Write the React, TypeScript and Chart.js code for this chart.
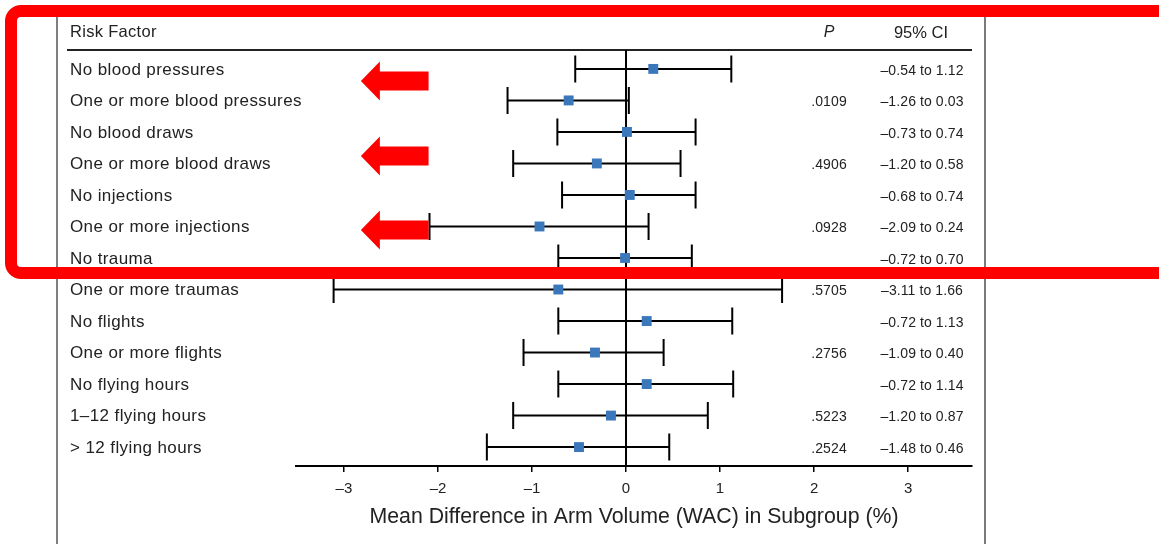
import React, { useEffect, useRef } from "react";
import { Chart, registerables } from "chart.js";

Chart.register(...registerables);

const riskFactors = [
  "No blood pressures",
  "One or more blood pressures",
  "No blood draws",
  "One or more blood draws",
  "No injections",
  "One or more injections",
  "No trauma",
  "One or more traumas",
  "No flights",
  "One or more flights",
  "No flying hours",
  "1–12 flying hours",
  "> 12 flying hours",
];
const means = [0.29, -0.61, 0.01, -0.31, 0.04, -0.92, -0.01, -0.72, 0.22, -0.33, 0.22, -0.16, -0.5];
const ciLow = [-0.54, -1.26, -0.73, -1.2, -0.68, -2.09, -0.72, -3.11, -0.72, -1.09, -0.72, -1.2, -1.48];
const ciHigh = [1.12, 0.03, 0.74, 0.58, 0.74, 0.24, 0.7, 1.66, 1.13, 0.4, 1.14, 0.87, 0.46];
const pValues = ["", ".0109", "", ".4906", "", ".0928", "", ".5705", "", ".2756", "", ".5223", ".2524"];
const xTicks = [-3, -2, -1, 0, 1, 2, 3];
const arrowRows = [0.38, 2.76, 5.11];

const fmt = (v: number) => (v < 0 ? "–" + Math.abs(v).toFixed(2) : v.toFixed(2));
const fmtTick = (v: number) => (v < 0 ? "–" + Math.abs(v) : String(v));

const TEXT = "#222";
const FAMILY = '"Liberation Sans", Arial, sans-serif';
const ROW_FONT = "17px " + FAMILY;
const SMALL_FONT = "14px " + FAMILY;
const HEAD_FONT = "16.5px " + FAMILY;

const forestPlugin = {
  id: "forest",
  beforeDatasetsDraw(chart: any) {
    const { ctx, chartArea, scales } = chart;
    const xs = scales.x;
    const ys = scales.y;
    const H = chart.height;
    ctx.save();
    // frame lines
    ctx.strokeStyle = "#555";
    ctx.lineWidth = 1.5;
    ctx.beginPath();
    ctx.moveTo(57, 12);
    ctx.lineTo(57, H);
    ctx.stroke();
    ctx.strokeStyle = "#222";
    ctx.lineWidth = 1.2;
    ctx.beginPath();
    ctx.moveTo(985, 12);
    ctx.lineTo(985, H);
    ctx.stroke();
    // header line
    ctx.strokeStyle = "#222";
    ctx.lineWidth = 2;
    ctx.beginPath();
    ctx.moveTo(67, chartArea.top);
    ctx.lineTo(972, chartArea.top);
    ctx.stroke();
    // header texts
    ctx.fillStyle = TEXT;
    ctx.textBaseline = "middle";
    ctx.font = HEAD_FONT;
    ctx.letterSpacing = "0.3px";
    ctx.textAlign = "left";
    ctx.fillText("Risk Factor", 70, 32.5);
    ctx.letterSpacing = "0px";
    ctx.textAlign = "center";
    ctx.font = "italic 16px " + FAMILY;
    ctx.fillText("P", 829, 33);
    ctx.font = HEAD_FONT;
    ctx.fillText("95% CI", 921, 33);
    // zero line
    const x0 = xs.getPixelForValue(0);
    ctx.strokeStyle = "#000";
    ctx.lineWidth = 2;
    ctx.beginPath();
    ctx.moveTo(x0, chartArea.top);
    ctx.lineTo(x0, chartArea.bottom);
    ctx.stroke();
    // rows
    riskFactors.forEach((name, i) => {
      const y = ys.getPixelForValue(i);
      ctx.fillStyle = TEXT;
      ctx.font = ROW_FONT;
      ctx.letterSpacing = "0.4px";
      ctx.textAlign = "left";
      ctx.fillText(name, 70, y + 1);
      ctx.font = SMALL_FONT;
      ctx.letterSpacing = "0.1px";
      ctx.textAlign = "center";
      if (pValues[i]) ctx.fillText(pValues[i], 829, y + 2);
      ctx.fillText(fmt(ciLow[i]) + " to " + fmt(ciHigh[i]), 922, y + 2);
      ctx.letterSpacing = "0px";
      const xl = xs.getPixelForValue(ciLow[i]);
      const xh = xs.getPixelForValue(ciHigh[i]);
      ctx.strokeStyle = "#000";
      ctx.lineWidth = 2;
      ctx.beginPath();
      ctx.moveTo(xl, y);
      ctx.lineTo(xh, y);
      ctx.moveTo(xl, y - 13.5);
      ctx.lineTo(xl, y + 13.5);
      ctx.moveTo(xh, y - 13.5);
      ctx.lineTo(xh, y + 13.5);
      ctx.stroke();
    });
    ctx.restore();
  },
  afterDraw(chart: any) {
    const { ctx, scales } = chart;
    const xs = scales.x;
    const ys = scales.y;
    ctx.save();
    // red highlight box
    ctx.strokeStyle = "#ff0000";
    ctx.lineWidth = 12;
    ctx.beginPath();
    ctx.roundRect(11, 11, 1180, 262, 10);
    ctx.stroke();
    // arrows
    ctx.fillStyle = "#ff0000";
    const tip = xs.getPixelForValue(-2.82);
    const tail = xs.getPixelForValue(-2.1);
    arrowRows.forEach((r) => {
      const y = ys.getPixelForValue(r);
      const neck = tip + 19;
      ctx.beginPath();
      ctx.moveTo(tip, y);
      ctx.lineTo(neck, y - 19.5);
      ctx.lineTo(neck, y - 9.5);
      ctx.lineTo(tail, y - 9.5);
      ctx.lineTo(tail, y + 9.5);
      ctx.lineTo(neck, y + 9.5);
      ctx.lineTo(neck, y + 19.5);
      ctx.closePath();
      ctx.fill();
    });
    ctx.restore();
  },
};

export default function App() {
  const ref = useRef<HTMLCanvasElement>(null);
  useEffect(() => {
    if (!ref.current) return;
    const chart = new Chart(ref.current, {
      type: "scatter",
      data: {
        datasets: [
          {
            data: means.map((m, i) => ({ x: m, y: i })),
            pointStyle: "rect",
            pointRadius: 7,
            pointBorderWidth: 0,
            backgroundColor: "#3b77bb",
            borderColor: "#3b77bb",
          },
        ],
      },
      options: {
        responsive: false,
        animation: false,
        events: [],
        layout: { padding: { left: 296, right: 187, top: 50, bottom: 0 } },
        plugins: { legend: { display: false }, tooltip: { enabled: false } },
        scales: {
          x: {
            type: "linear",
            min: -3.51,
            max: 3.68,
            afterBuildTicks: (scale: any) => {
              scale.ticks = xTicks.map((v) => ({ value: v }));
            },
            afterFit: (scale: any) => {
              scale.height = 78;
            },
            grid: { drawOnChartArea: false, drawTicks: true, tickLength: 6, color: "#000", lineWidth: 1.5 },
            border: { display: true, color: "#000", width: 2 },
            ticks: {
              color: TEXT,
              padding: 8,
              font: { family: FAMILY, size: 15 },
              callback: (v: any) => fmtTick(Number(v)),
            },
            title: {
              display: true,
              text: "Mean Difference in Arm Volume (WAC) in Subgroup (%)",
              color: TEXT,
              font: { family: FAMILY, size: 21.3 },
              padding: { top: 0, bottom: 14 },
            },
          },
          y: {
            type: "linear",
            display: false,
            reverse: true,
            min: -0.6,
            max: 12.6,
          },
        },
      },
      plugins: [forestPlugin],
    });
    return () => chart.destroy();
  }, []);
  return (
    <div style={{ position: "absolute", left: 0, top: 0, width: 1159, height: 544, background: "#fff" }}>
      <canvas ref={ref} width={1159} height={544} style={{ display: "block" }} />
    </div>
  );
}
